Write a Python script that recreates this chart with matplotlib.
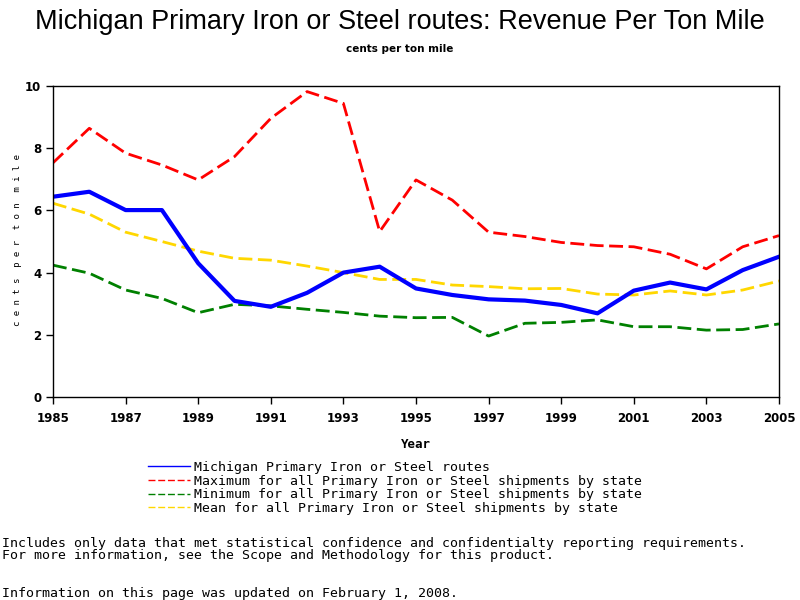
import matplotlib
matplotlib.use("Agg")
import matplotlib.pyplot as plt
from matplotlib.lines import Line2D

# data (cents per ton mile)
years = list(range(1985, 2006))
michigan = [6.44, 6.60, 6.01, 6.01, 4.30, 3.09, 2.90, 3.35, 4.00, 4.19, 3.49,
            3.28, 3.14, 3.10, 2.96, 2.69, 3.42, 3.68, 3.46, 4.08, 4.51]
maximum = [7.53, 8.64, 7.84, 7.46, 6.98, 7.73, 8.96, 9.82, 9.44, 5.32, 6.98,
           6.33, 5.30, 5.16, 4.97, 4.87, 4.83, 4.59, 4.12, 4.83, 5.19]
minimum = [4.24, 3.98, 3.44, 3.17, 2.71, 2.98, 2.93, 2.82, 2.72, 2.60, 2.55,
           2.56, 1.96, 2.37, 2.40, 2.48, 2.26, 2.26, 2.15, 2.17, 2.35]
mean = [6.23, 5.88, 5.30, 5.00, 4.69, 4.46, 4.40, 4.21, 4.00, 3.78, 3.78,
        3.60, 3.55, 3.48, 3.49, 3.31, 3.28, 3.41, 3.28, 3.44, 3.73]

labels = ["Michigan Primary Iron or Steel routes",
          "Maximum for all Primary Iron or Steel shipments by state",
          "Minimum for all Primary Iron or Steel shipments by state",
          "Mean for all Primary Iron or Steel shipments by state"]
colors = ["#0000ff", "#ff0000", "#008000", "#ffd700"]

mono = "DejaVu Sans Mono"

fig = plt.figure(figsize=(8, 6), dpi=100)
ax = fig.add_axes([53 / 800, 1 - 397 / 600, 726 / 800, 311 / 600])

dash = (5, 2)
ax.plot(years, maximum, color=colors[1], lw=2, dashes=dash)
ax.plot(years, mean, color=colors[3], lw=2, dashes=dash)
ax.plot(years, minimum, color=colors[2], lw=2, dashes=dash)
ax.plot(years, michigan, color=colors[0], lw=3)

ax.set_xlim(1985, 2005)
ax.set_ylim(0, 10)
ax.set_xticks(range(1985, 2006, 2))
ax.set_yticks(range(0, 11, 2))
ax.tick_params(direction="out", length=5, width=1, labelsize=8.5)
for t in ax.get_xticklabels() + ax.get_yticklabels():
    t.set_fontweight("bold")
ax.tick_params(axis="x", pad=6)
for s in ax.spines.values():
    s.set_linewidth(1)

fig.text(0.5, 1 - 22 / 600, "Michigan Primary Iron or Steel routes: Revenue Per Ton Mile",
         ha="center", va="center", fontsize=19.5, family="Liberation Sans")
fig.text(0.5, 1 - 49 / 600, "cents per ton mile", ha="center", va="center",
         fontsize=7.5, fontweight="bold")
fig.text(18 / 800, 1 - 240 / 600, "c e n t s  p e r  t o n  m i l e",
         rotation=90, ha="center", va="center", fontsize=6.5, family=mono)
fig.text(416 / 800, 1 - 445 / 600, "Year", ha="center", va="center",
         fontsize=9, fontweight="bold", family=mono)

handles = [Line2D([], [], color=colors[0], lw=1)] + \
          [Line2D([], [], color=c, lw=1, dashes=(5, 2)) for c in colors[1:]]
fig.legend(handles, labels, loc="upper left", bbox_to_anchor=(148 / 800, 1 - 461 / 600),
           frameon=False, prop={"family": mono, "size": 9.5}, handlelength=3.2,
           handletextpad=0.3, labelspacing=0.05, borderaxespad=0, borderpad=0)

foot = dict(ha="left", va="center", fontsize=9.5, family=mono)
fig.text(2 / 800, 1 - 543 / 600, "Includes only data that met statistical confidence and "
         "confidentialty reporting requirements.", **foot)
fig.text(2 / 800, 1 - 556 / 600, "For more information, see the Scope and Methodology "
         "for this product.", **foot)
fig.text(2 / 800, 1 - 594 / 600, "Information on this page was updated on February 1, 2008.",
         **foot)

fig.savefig("out.png", dpi=100)
